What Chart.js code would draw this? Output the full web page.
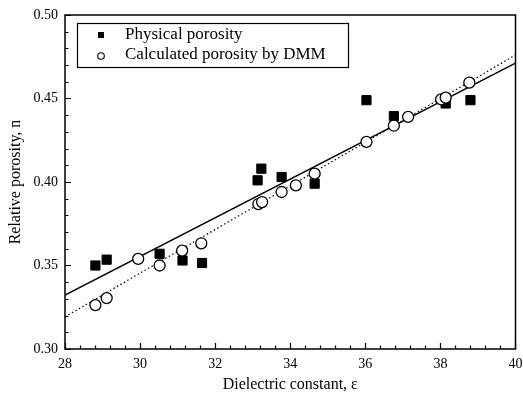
<!DOCTYPE html>
<html>
<head>
<meta charset="utf-8">
<script src="https://cdn.jsdelivr.net/npm/chart.js@4.4.1/dist/chart.umd.min.js"></script>
<style>
  html, body { margin: 0; padding: 0; background: #fff; }
  #wrap { width: 523px; height: 400px; }
</style>
</head>
<body>
<div id="wrap"><canvas id="chart"></canvas></div>
<script>
const physicalX = [28.81, 29.11, 30.52, 31.13, 31.65, 33.13, 33.23, 33.77, 34.65, 36.03, 36.76, 38.14, 38.8]
const physicalY = [0.350, 0.3535, 0.357, 0.353, 0.3515, 0.401, 0.408, 0.403, 0.399, 0.449, 0.4395, 0.447, 0.449]

const calculatedX = [28.81, 29.11, 29.95, 30.52, 31.12, 31.63, 33.15, 33.25, 33.77, 34.15, 34.65, 36.03, 36.76, 37.14, 38.02, 38.14, 38.77]
const calculatedY = [0.3263, 0.3305, 0.354, 0.350, 0.3589, 0.3633, 0.3868, 0.388, 0.394, 0.398, 0.405, 0.424, 0.4337, 0.439, 0.4495, 0.4505, 0.4595]

// linear fit end points
const fitX = [28, 40]
const physicalFit = [0.3323, 0.4712]
const calculatedFit = [0.3193, 0.476]

const xTicks = [28, 30, 32, 34, 36, 38, 40]
const yTicks = [0.30, 0.35, 0.40, 0.45, 0.50]

const legendLabels = ['Physical porosity', 'Calculated porosity by DMM']

const serif = "'Liberation Serif', 'Times New Roman', serif"

const toPoints = (xs, ys) => xs.map((x, i) => ({ x, y: ys[i] }))

// inward ticks + full frame
const frameTicks = {
  id: 'frameTicks',
  afterDraw(chart) {
    const { ctx, chartArea: { left, right, top, bottom }, scales: { x, y } } = chart
    ctx.save()
    ctx.strokeStyle = '#000'
    ctx.lineWidth = 1.5
    ctx.strokeRect(left, top, right - left, bottom - top)
    ctx.lineWidth = 1.2
    ctx.beginPath()
    for (let v = 28; v <= 40.001; v += 0.4) {
      const px = Math.round(x.getPixelForValue(v)) + 0.5
      const major = Math.abs(v / 2 - Math.round(v / 2)) < 0.01
      const len = major ? 6 : 3.5
      ctx.moveTo(px, bottom)
      ctx.lineTo(px, bottom - len)
    }
    for (let v = 0.30; v <= 0.5001; v += 0.01) {
      const py = Math.round(y.getPixelForValue(v)) + 0.5
      const major = Math.abs(v / 0.05 - Math.round(v / 0.05)) < 0.01
      const len = major ? 6 : 3.5
      ctx.moveTo(left, py)
      ctx.lineTo(left + len, py)
    }
    ctx.stroke()
    ctx.restore()
  },
}

const boxLegend = {
  id: 'boxLegend',
  afterDraw(chart) {
    const { ctx } = chart
    ctx.save()
    ctx.strokeStyle = '#000'
    ctx.lineWidth = 1.2
    ctx.strokeRect(77.5, 23.5, 271, 44)
    ctx.font = '17px ' + serif
    ctx.fillStyle = '#000'
    ctx.textBaseline = 'middle'
    ctx.fillText(legendLabels[0], 125, 35)
    ctx.fillText(legendLabels[1], 125, 55)
    ctx.fillRect(98, 32, 6, 6)
    ctx.beginPath()
    ctx.lineWidth = 1.1
    ctx.arc(101, 56, 3.3, 0, Math.PI * 2)
    ctx.stroke()
    ctx.restore()
  },
}

new Chart(document.getElementById('chart'), {
  type: 'scatter',
  data: {
    datasets: [
      {
        label: legendLabels[0],
        data: toPoints(physicalX, physicalY),
        pointStyle: 'rect',
        pointRadius: 6.5,
        backgroundColor: '#000',
        borderColor: '#000',
        borderWidth: 1,
        order: 1,
      },
      {
        label: legendLabels[1],
        data: toPoints(calculatedX, calculatedY),
        pointStyle: 'circle',
        pointRadius: 5.5,
        backgroundColor: '#fff',
        borderColor: '#000',
        borderWidth: 1.3,
        order: 0,
      },
      {
        type: 'line',
        data: toPoints(fitX, physicalFit),
        borderColor: '#000',
        borderWidth: 1.5,
        pointRadius: 0,
        order: 3,
      },
      {
        type: 'line',
        data: toPoints(fitX, calculatedFit),
        borderColor: '#000',
        borderWidth: 1.2,
        borderDash: [1.5, 2.5],
        pointRadius: 0,
        order: 3,
      },
    ],
  },
  options: {
    responsive: true,
    maintainAspectRatio: false,
    animation: false,
    layout: { padding: { left: 6, right: 5, top: 15, bottom: 0 } },
    plugins: {
      legend: { display: false },
      tooltip: { enabled: false },
    },
    scales: {
      x: {
        type: 'linear',
        min: 28,
        max: 40,
        afterBuildTicks: (s) => { s.ticks = xTicks.map((v) => ({ value: v })) },
        afterFit: (s) => { s.height = 51; s.paddingLeft = 0; s.paddingRight = 0 },
        grid: { display: false, drawTicks: false },
        border: { display: false },
        ticks: {
          color: '#000',
          padding: 7,
          maxRotation: 0,
          autoSkip: false,
          font: { family: serif, size: 14 },
        },
        title: {
          display: true,
          text: 'Dielectric constant, ε',
          color: '#000',
          padding: { top: 4, bottom: 6 },
          font: { family: serif, size: 16 },
        },
      },
      y: {
        type: 'linear',
        min: 0.30,
        max: 0.50,
        afterBuildTicks: (s) => { s.ticks = yTicks.map((v) => ({ value: v })) },
        afterFit: (s) => { s.width = 59; s.paddingTop = 0; s.paddingBottom = 0 },
        grid: { display: false, drawTicks: false },
        border: { display: false },
        ticks: {
          color: '#000',
          padding: 7,
          callback: (v) => v.toFixed(2),
          font: { family: serif, size: 14 },
        },
        title: {
          display: true,
          text: 'Relative porosity, n',
          color: '#000',
          padding: { top: 0, bottom: 4 },
          font: { family: serif, size: 16 },
        },
      },
    },
  },
  plugins: [frameTicks, boxLegend],
})
</script>
</body>
</html>
